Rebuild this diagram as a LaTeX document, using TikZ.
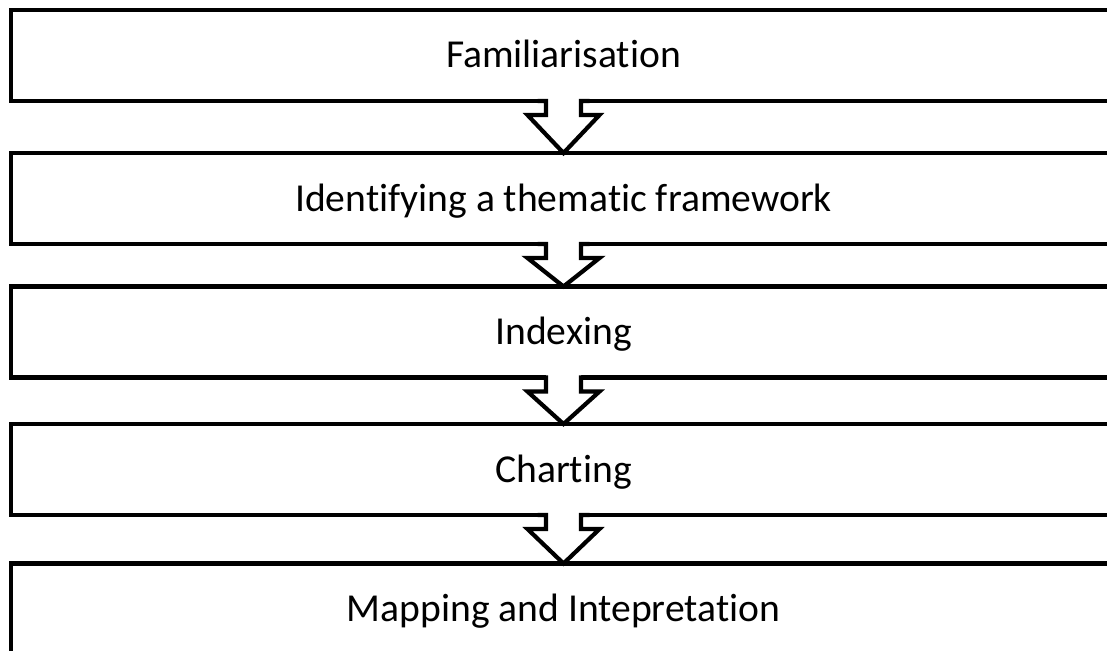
\documentclass[tikz,border=0pt]{standalone}
\usepackage{fontspec}
\setmainfont[Ligatures = NoCommon]{Carlito}
\usetikzlibrary{calc}

\tikzset{
  stage/.style = {rectangle, draw, fill = white, line width = 4.2pt, outer sep = 0pt,
    minimum width = 1105pt, minimum height = 91pt,
    text height = 25pt, text depth = 0pt,
    font = \fontsize{39.6}{47}\selectfont},
  stageline/.style = {line width = 4.2pt}
}

% hollow block arrow hanging from the bottom of one stage down to the next
\newcommand{\flowarrow}[2]{%
  \fill [white] ($(#1.south)+(-17.5,6)$) -- ($(#1.south)+(-17.5,-14)$)
    -- ($(#1.south)+(-36,-14)$) -- (#2.north) -- ($(#1.south)+(36,-14)$)
    -- ($(#1.south)+(17.5,-14)$) -- ($(#1.south)+(17.5,6)$) -- cycle;
  \draw [stageline] ($(#1.south)+(-26,0)$) -- ($(#1.south)+(-17.5,0)$)
    -- ($(#1.south)+(-17.5,-14)$) -- ($(#1.south)+(-36,-14)$) -- (#2.north)
    -- ($(#1.south)+(36,-14)$) -- ($(#1.south)+(17.5,-14)$)
    -- ($(#1.south)+(17.5,0)$) -- ($(#1.south)+(26,0)$);
}

\begin{document}
\begin{tikzpicture} [x = 1pt, y = 1pt]

\useasboundingbox (0,0) rectangle (1107,-650);

\node [stage] (familiar) at (563.5,-55.5) {Familiarisation};
\node [stage] (framework) at (563.5,-198.5) {Identifying a thematic framework};
\node [stage] (indexing) at (563.5,-332) {Indexing};
\node [stage] (charting) at (563.5,-469.5) {Charting};
\node [stage] (mapping) at (563.5,-609) {Mapping and Intepretation};

\flowarrow{familiar}{framework}
\flowarrow{framework}{indexing}
\flowarrow{indexing}{charting}
\flowarrow{charting}{mapping}

\end{tikzpicture}
\end{document}
